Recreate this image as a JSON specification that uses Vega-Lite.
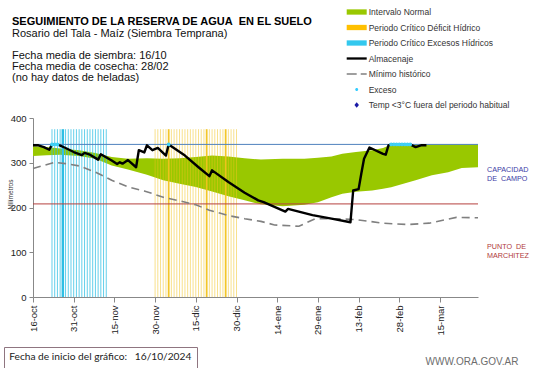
{
  "$schema": "https://vega.github.io/schema/vega-lite/v6.json",
  "width": 445,
  "height": 179,
  "autosize": {"type": "none"},
  "padding": {"left": 33, "top": 118, "right": 63, "bottom": 71},
  "background": "white",
  "config": {"view": {"stroke": null}, "font": "Liberation Sans"},
  "title": {
    "text": "SEGUIMIENTO DE LA RESERVA DE AGUA\u00a0 EN EL SUELO",
    "subtitle": ["Rosario del Tala - Maíz (Siembra Temprana)", "\u200b", "Fecha media de siembra: 16/10", "Fecha media de cosecha: 28/02", "(no hay datos de heladas)"],
    "anchor": "start",
    "frame": "group",
    "dx": -21,
    "font": "Liberation Sans",
    "fontSize": 11,
    "fontWeight": "bold",
    "color": "#000000",
    "subtitleFont": "Liberation Sans",
    "subtitleFontSize": 11,
    "subtitleColor": "#111111",
    "subtitleLineHeight": 11,
    "subtitlePadding": 1,
    "offset": -76
  },
  "layer": [
    {
      "encoding": {
        "x": {
          "field": "fecha",
          "type": "temporal",
          "scale": {"type": "utc", "domain": [{"year": 2024, "month": 10, "date": 16, "utc": true}, {"year": 2025, "month": 3, "date": 29, "utc": true}]},
          "axis": {
            "values": [
              {"year": 2024, "month": 10, "date": 16, "utc": true},
              {"year": 2024, "month": 10, "date": 31, "utc": true},
              {"year": 2024, "month": 11, "date": 15, "utc": true},
              {"year": 2024, "month": 11, "date": 30, "utc": true},
              {"year": 2024, "month": 12, "date": 15, "utc": true},
              {"year": 2024, "month": 12, "date": 30, "utc": true},
              {"year": 2025, "month": 1, "date": 14, "utc": true},
              {"year": 2025, "month": 1, "date": 29, "utc": true},
              {"year": 2025, "month": 2, "date": 13, "utc": true},
              {"year": 2025, "month": 2, "date": 28, "utc": true},
              {"year": 2025, "month": 3, "date": 15, "utc": true}
            ],
            "labelExpr": "utcFormat(datum.value, '%d') + '-' + ['ene','feb','mar','abr','may','jun','jul','ago','sep','oct','nov','dic'][utcmonth(datum.value)]",
            "labelAngle": 270,
            "labelAlign": "right",
            "labelBaseline": "middle",
            "labelFont": "Liberation Sans",
            "labelFontSize": 9.5,
            "labelColor": "#222222",
            "labelPadding": 3,
            "labelOverlap": false,
            "tickSize": 5,
            "tickColor": "#888888",
            "domainColor": "#888888",
            "grid": false,
            "title": "WWW.ORA.GOV.AR",
            "titleFont": "Liberation Sans",
            "titleFontSize": 10,
            "titleFontWeight": "normal",
            "titleColor": "#6d6d6d",
            "titleAlign": "left",
            "titleBaseline": "alphabetic",
            "titleX": 392,
            "titleY": 67.5
          }
        }
      },
      "layer": [
        {
          "data": {"values": [
            {"fecha": "2024-10-16", "inferior": 315, "superior": 337},
            {"fecha": "2024-10-21", "inferior": 317, "superior": 335},
            {"fecha": "2024-10-26", "inferior": 318, "superior": 332},
            {"fecha": "2024-11-02", "inferior": 315, "superior": 328},
            {"fecha": "2024-11-08", "inferior": 309, "superior": 322},
            {"fecha": "2024-11-14", "inferior": 294, "superior": 313},
            {"fecha": "2024-11-20", "inferior": 285, "superior": 309},
            {"fecha": "2024-11-27", "inferior": 273, "superior": 310},
            {"fecha": "2024-12-03", "inferior": 261, "superior": 309},
            {"fecha": "2024-12-09", "inferior": 253, "superior": 310},
            {"fecha": "2024-12-15", "inferior": 246, "superior": 313},
            {"fecha": "2024-12-21", "inferior": 236, "superior": 316},
            {"fecha": "2024-12-27", "inferior": 225, "superior": 314},
            {"fecha": "2025-01-02", "inferior": 216, "superior": 310},
            {"fecha": "2025-01-08", "inferior": 207, "superior": 307},
            {"fecha": "2025-01-16", "inferior": 203, "superior": 309},
            {"fecha": "2025-01-24", "inferior": 206, "superior": 309},
            {"fecha": "2025-01-29", "inferior": 212, "superior": 311},
            {"fecha": "2025-02-03", "inferior": 223, "superior": 314},
            {"fecha": "2025-02-07", "inferior": 231, "superior": 320},
            {"fecha": "2025-02-12", "inferior": 235, "superior": 324},
            {"fecha": "2025-02-18", "inferior": 238, "superior": 328},
            {"fecha": "2025-02-22", "inferior": 242, "superior": 333},
            {"fecha": "2025-02-25", "inferior": 245, "superior": 341},
            {"fecha": "2025-03-06", "inferior": 261, "superior": 341},
            {"fecha": "2025-03-12", "inferior": 272, "superior": 341},
            {"fecha": "2025-03-18", "inferior": 279, "superior": 341},
            {"fecha": "2025-03-23", "inferior": 288, "superior": 341},
            {"fecha": "2025-03-29", "inferior": 290, "superior": 341}
          ]},
          "mark": {"type": "area", "color": "#99c800", "opacity": 1},
          "encoding": {
            "y": {
              "field": "inferior",
              "type": "quantitative",
              "scale": {"domain": [0, 400], "nice": false},
              "axis": {
                "values": [0, 50, 100, 150, 200, 250, 300, 350, 400],
                "grid": false,
                "labelFont": "Liberation Sans",
                "labelFontSize": 9.5,
                "labelColor": "#222222",
                "labelPadding": 3,
                "tickSize": 4,
                "tickColor": "#888888",
                "domainColor": "#888888",
                "title": "Milímetros",
                "titleFont": "Liberation Sans",
                "titleFontSize": 6.5,
                "titleFontWeight": "normal",
                "titleColor": "#333333",
                "titleBaseline": "middle",
                "titleAlign": "center",
                "titleX": -23,
                "titleY": 76
              }
            },
            "y2": {"field": "superior"}
          }
        },
        {
          "data": {"values": [
            {"fecha": "2024-10-23", "fuerte": false},
            {"fecha": "2024-10-24", "fuerte": false},
            {"fecha": "2024-10-25", "fuerte": false},
            {"fecha": "2024-10-26", "fuerte": false},
            {"fecha": "2024-10-27", "fuerte": true},
            {"fecha": "2024-10-28", "fuerte": false},
            {"fecha": "2024-10-29", "fuerte": false},
            {"fecha": "2024-10-30", "fuerte": false},
            {"fecha": "2024-10-31", "fuerte": false},
            {"fecha": "2024-11-01", "fuerte": false},
            {"fecha": "2024-11-02", "fuerte": false},
            {"fecha": "2024-11-03", "fuerte": false},
            {"fecha": "2024-11-04", "fuerte": false},
            {"fecha": "2024-11-05", "fuerte": false},
            {"fecha": "2024-11-06", "fuerte": false},
            {"fecha": "2024-11-07", "fuerte": false},
            {"fecha": "2024-11-08", "fuerte": false},
            {"fecha": "2024-11-09", "fuerte": false},
            {"fecha": "2024-11-10", "fuerte": false},
            {"fecha": "2024-11-11", "fuerte": false},
            {"fecha": "2024-11-12", "fuerte": false}
          ]},
          "mark": {"type": "rule", "color": "#2fbfe4"},
          "encoding": {
            "y": {"datum": 375, "type": "quantitative", "scale": {"domain": [0, 400], "nice": false}},
            "y2": {"datum": 0},
            "strokeWidth": {"condition": {"test": "datum.fuerte", "value": 2.5}, "value": 1},
            "opacity": {"condition": {"test": "datum.fuerte", "value": 1}, "value": 0.75}
          }
        },
        {
          "data": {"values": [
            {"fecha": "2024-11-30", "fuerte": false},
            {"fecha": "2024-12-01", "fuerte": false},
            {"fecha": "2024-12-02", "fuerte": false},
            {"fecha": "2024-12-03", "fuerte": false},
            {"fecha": "2024-12-04", "fuerte": false},
            {"fecha": "2024-12-05", "fuerte": true},
            {"fecha": "2024-12-06", "fuerte": false},
            {"fecha": "2024-12-07", "fuerte": false},
            {"fecha": "2024-12-08", "fuerte": false},
            {"fecha": "2024-12-09", "fuerte": false},
            {"fecha": "2024-12-10", "fuerte": false},
            {"fecha": "2024-12-11", "fuerte": false},
            {"fecha": "2024-12-12", "fuerte": false},
            {"fecha": "2024-12-13", "fuerte": false},
            {"fecha": "2024-12-14", "fuerte": false},
            {"fecha": "2024-12-15", "fuerte": false},
            {"fecha": "2024-12-16", "fuerte": false},
            {"fecha": "2024-12-17", "fuerte": false},
            {"fecha": "2024-12-18", "fuerte": false},
            {"fecha": "2024-12-19", "fuerte": true},
            {"fecha": "2024-12-20", "fuerte": false},
            {"fecha": "2024-12-21", "fuerte": false},
            {"fecha": "2024-12-22", "fuerte": false},
            {"fecha": "2024-12-23", "fuerte": false},
            {"fecha": "2024-12-24", "fuerte": false},
            {"fecha": "2024-12-25", "fuerte": false},
            {"fecha": "2024-12-26", "fuerte": true},
            {"fecha": "2024-12-27", "fuerte": false},
            {"fecha": "2024-12-28", "fuerte": false},
            {"fecha": "2024-12-29", "fuerte": false},
            {"fecha": "2024-12-30", "fuerte": false}
          ]},
          "mark": {"type": "rule", "color": "#f2c31c"},
          "encoding": {
            "y": {"datum": 375, "type": "quantitative", "scale": {"domain": [0, 400], "nice": false}},
            "y2": {"datum": 0},
            "strokeWidth": {"condition": {"test": "datum.fuerte", "value": 1.8}, "value": 1},
            "opacity": {"condition": {"test": "datum.fuerte", "value": 0.95}, "value": 0.5}
          }
        }
      ]
    },
    {
      "data": {"values": [
        {"nivel": 341, "tipo": "cc", "rotulo": "CAPACIDAD\nDE\u00a0 CAMPO"},
        {"nivel": 208, "tipo": "pmp", "rotulo": "PUNTO\u00a0 DE\nMARCHITEZ"}
      ]},
      "layer": [
        {
          "mark": {"type": "rule", "strokeWidth": 1},
          "encoding": {
            "y": {"field": "nivel", "type": "quantitative", "scale": {"domain": [0, 400], "nice": false}},
            "color": {"condition": {"test": "datum.tipo === 'cc'", "value": "#4f81bd"}, "value": "#b5413f"}
          }
        },
        {
          "transform": [{"filter": "datum.tipo === 'cc'"}],
          "mark": {"type": "text", "align": "left", "baseline": "alphabetic", "dx": 9, "dy": 28, "lineBreak": "\n", "lineHeight": 8.7, "fontSize": 7.2, "font": "Liberation Sans", "color": "#3b3ba6"},
          "encoding": {
            "x": {"value": "width"},
            "y": {"field": "nivel", "type": "quantitative", "scale": {"domain": [0, 400], "nice": false}},
            "text": {"field": "rotulo"}
          }
        },
        {
          "transform": [{"filter": "datum.tipo === 'pmp'"}],
          "mark": {"type": "text", "align": "left", "baseline": "alphabetic", "dx": 9, "dy": 45.4, "lineBreak": "\n", "lineHeight": 8.7, "fontSize": 7.2, "font": "Liberation Sans", "color": "#b03a3a"},
          "encoding": {
            "x": {"value": "width"},
            "y": {"field": "nivel", "type": "quantitative", "scale": {"domain": [0, 400], "nice": false}},
            "text": {"field": "rotulo"}
          }
        }
      ]
    },
    {
      "encoding": {
        "x": {"field": "fecha", "type": "temporal"}
      },
      "layer": [
        {
          "data": {"values": [
            {"fecha": "2024-10-16", "valor": 287},
            {"fecha": "2024-10-20", "valor": 294},
            {"fecha": "2024-10-24", "valor": 301},
            {"fecha": "2024-10-28", "valor": 298},
            {"fecha": "2024-11-02", "valor": 293},
            {"fecha": "2024-11-08", "valor": 279},
            {"fecha": "2024-11-14", "valor": 261},
            {"fecha": "2024-11-20", "valor": 246},
            {"fecha": "2024-11-26", "valor": 237},
            {"fecha": "2024-12-03", "valor": 223},
            {"fecha": "2024-12-09", "valor": 215},
            {"fecha": "2024-12-15", "valor": 206},
            {"fecha": "2024-12-20", "valor": 194},
            {"fecha": "2024-12-27", "valor": 182},
            {"fecha": "2025-01-02", "valor": 175},
            {"fecha": "2025-01-08", "valor": 169},
            {"fecha": "2025-01-13", "valor": 161},
            {"fecha": "2025-01-22", "valor": 158},
            {"fecha": "2025-01-28", "valor": 175},
            {"fecha": "2025-02-05", "valor": 175},
            {"fecha": "2025-02-12", "valor": 173},
            {"fecha": "2025-02-22", "valor": 165},
            {"fecha": "2025-03-03", "valor": 162},
            {"fecha": "2025-03-11", "valor": 165},
            {"fecha": "2025-03-21", "valor": 178},
            {"fecha": "2025-03-29", "valor": 177}
          ]},
          "mark": {"type": "line", "color": "#808080", "strokeWidth": 1.6, "strokeDash": [8, 5]},
          "encoding": {
            "y": {"field": "valor", "type": "quantitative", "scale": {"domain": [0, 400], "nice": false}}
          }
        },
        {
          "data": {"values": [
            {"fecha": "2024-10-16", "valor": 339},
            {"fecha": "2024-10-18", "valor": 339},
            {"fecha": "2024-10-20", "valor": 335},
            {"fecha": "2024-10-22", "valor": 329},
            {"fecha": "2024-10-23", "valor": 341},
            {"fecha": "2024-10-25", "valor": 341},
            {"fecha": "2024-10-28", "valor": 333},
            {"fecha": "2024-10-31", "valor": 324},
            {"fecha": "2024-11-03", "valor": 317},
            {"fecha": "2024-11-04", "valor": 322},
            {"fecha": "2024-11-06", "valor": 318},
            {"fecha": "2024-11-09", "valor": 307},
            {"fecha": "2024-11-10", "valor": 319},
            {"fecha": "2024-11-14", "valor": 305},
            {"fecha": "2024-11-16", "valor": 297},
            {"fecha": "2024-11-17", "valor": 301},
            {"fecha": "2024-11-18", "valor": 298},
            {"fecha": "2024-11-20", "valor": 306},
            {"fecha": "2024-11-23", "valor": 290},
            {"fecha": "2024-11-24", "valor": 328},
            {"fecha": "2024-11-26", "valor": 323},
            {"fecha": "2024-11-27", "valor": 339},
            {"fecha": "2024-11-29", "valor": 328},
            {"fecha": "2024-12-01", "valor": 333},
            {"fecha": "2024-12-04", "valor": 316},
            {"fecha": "2024-12-05", "valor": 341},
            {"fecha": "2024-12-11", "valor": 316},
            {"fecha": "2024-12-16", "valor": 290},
            {"fecha": "2024-12-20", "valor": 270},
            {"fecha": "2024-12-21", "valor": 283},
            {"fecha": "2024-12-27", "valor": 257},
            {"fecha": "2025-01-02", "valor": 233},
            {"fecha": "2025-01-07", "valor": 216},
            {"fecha": "2025-01-09", "valor": 212},
            {"fecha": "2025-01-17", "valor": 191},
            {"fecha": "2025-01-18", "valor": 197},
            {"fecha": "2025-01-27", "valor": 183},
            {"fecha": "2025-02-03", "valor": 175},
            {"fecha": "2025-02-10", "valor": 167},
            {"fecha": "2025-02-11", "valor": 238},
            {"fecha": "2025-02-13", "valor": 241},
            {"fecha": "2025-02-14", "valor": 276},
            {"fecha": "2025-02-15", "valor": 309},
            {"fecha": "2025-02-17", "valor": 334},
            {"fecha": "2025-02-22", "valor": 320},
            {"fecha": "2025-02-23", "valor": 318},
            {"fecha": "2025-02-24", "valor": 339},
            {"fecha": "2025-02-25", "valor": 341},
            {"fecha": "2025-03-04", "valor": 341},
            {"fecha": "2025-03-06", "valor": 335},
            {"fecha": "2025-03-08", "valor": 339},
            {"fecha": "2025-03-10", "valor": 339}
          ]},
          "mark": {"type": "line", "color": "#000000", "strokeWidth": 2.4, "strokeJoin": "round"},
          "encoding": {
            "y": {"field": "valor", "type": "quantitative", "scale": {"domain": [0, 400], "nice": false}}
          }
        },
        {
          "data": {"values": [
            {"fecha": "2024-10-23", "valor": 341},
            {"fecha": "2024-10-24", "valor": 341},
            {"fecha": "2024-10-25", "valor": 341},
            {"fecha": "2024-12-05", "valor": 341},
            {"fecha": "2025-02-25", "valor": 341},
            {"fecha": "2025-02-26", "valor": 341},
            {"fecha": "2025-02-27", "valor": 341},
            {"fecha": "2025-02-28", "valor": 341},
            {"fecha": "2025-03-01", "valor": 341},
            {"fecha": "2025-03-02", "valor": 341},
            {"fecha": "2025-03-03", "valor": 341},
            {"fecha": "2025-03-04", "valor": 341}
          ]},
          "mark": {"type": "circle", "color": "#3fd0f5", "size": 14, "opacity": 1},
          "encoding": {
            "y": {"field": "valor", "type": "quantitative", "scale": {"domain": [0, 400], "nice": false}}
          }
        }
      ]
    },
    {
      "data": {"values": [
        {"serie": "Intervalo Normal", "nota": "Fecha de inicio del gráfico:\u00a0\u00a0 16/10/2024"},
        {"serie": "Periodo Crítico Déficit Hídrico", "nota": "Fecha de inicio del gráfico:\u00a0\u00a0 16/10/2024"},
        {"serie": "Periodo Crítico Excesos Hídricos", "nota": "Fecha de inicio del gráfico:\u00a0\u00a0 16/10/2024"},
        {"serie": "Almacenaje", "nota": "Fecha de inicio del gráfico:\u00a0\u00a0 16/10/2024"},
        {"serie": "Mínimo histórico", "nota": "Fecha de inicio del gráfico:\u00a0\u00a0 16/10/2024"},
        {"serie": "Exceso", "nota": "Fecha de inicio del gráfico:\u00a0\u00a0 16/10/2024"},
        {"serie": "Temp <3°C fuera del periodo habitual", "nota": "Fecha de inicio del gráfico:\u00a0\u00a0 16/10/2024"}
      ]},
      "transform": [{"filter": "false"}],
      "mark": {"type": "point", "filled": true, "opacity": 1, "strokeWidth": 0},
      "encoding": {
        "color": {
          "field": "serie",
          "type": "nominal",
          "scale": {
            "domain": ["Intervalo Normal", "Periodo Crítico Déficit Hídrico", "Periodo Crítico Excesos Hídricos", "Almacenaje", "Mínimo histórico", "Exceso", "Temp <3°C fuera del periodo habitual"],
            "range": ["#99c800", "#ffc000", "#33c8ee", "#000000", "#808080", "#33ccff", "#1a1aa6"]
          },
          "legend": {
            "orient": "none", "legendX": 318.7, "legendY": -111, "title": null,
            "symbolSize": 100, "symbolStrokeWidth": 0, "symbolOpacity": 1,
            "labelFont": "Liberation Sans", "labelFontSize": 8.5, "labelColor": "#333333",
            "labelOffset": 7, "labelLimit": 300, "rowPadding": 5.5, "padding": 0
          }
        },
        "shape": {
          "field": "serie",
          "type": "nominal",
          "scale": {
            "domain": ["Intervalo Normal", "Periodo Crítico Déficit Hídrico", "Periodo Crítico Excesos Hídricos", "Almacenaje", "Mínimo histórico", "Exceso", "Temp <3°C fuera del periodo habitual"],
            "range": [
              "M-2,-0.53H2V0.53H-2Z",
              "M-2,-0.53H2V0.53H-2Z",
              "M-2,-0.53H2V0.53H-2Z",
              "M-2,-0.23H2V0.23H-2Z",
              "M-2,-0.16H0V0.16H-2Z M0.8,-0.16H2V0.16H0.8Z",
              "M-0.3,0A0.3,0.3,0,1,0,0.3,0A0.3,0.3,0,1,0,-0.3,0Z",
              "M0,-0.55L0.45,0L0,0.55L-0.45,0Z"
            ]
          },
          "legend": {
            "orient": "none", "legendX": 318.7, "legendY": -111, "title": null,
            "symbolSize": 100, "symbolStrokeWidth": 0, "symbolOpacity": 1,
            "labelFont": "Liberation Sans", "labelFontSize": 8.5, "labelColor": "#333333",
            "labelOffset": 7, "labelLimit": 300, "rowPadding": 5.5, "padding": 0
          }
        },
        "strokeDash": {
          "field": "nota",
          "type": "nominal",
          "scale": {"domain": ["Fecha de inicio del gráfico:\u00a0\u00a0 16/10/2024"], "range": [[1, 0]]},
          "legend": {
            "orient": "none", "legendX": -29, "legendY": 229, "title": null,
            "symbolSize": 0, "symbolOpacity": 0, "symbolStrokeWidth": 0,
            "labelFont": "Lato", "labelFontSize": 10.2, "labelColor": "#222222",
            "labelOffset": -10, "labelLimit": 400, "padding": 5,
            "strokeColor": "#8f7580", "fillColor": "white"
          }
        }
      }
    }
  ]
}
